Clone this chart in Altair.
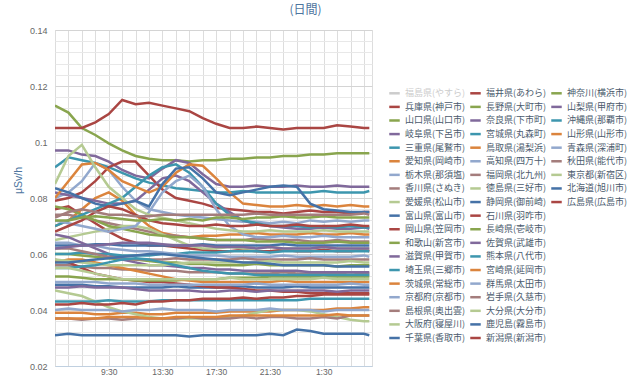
import altair as alt
import pandas as pd

# time of each reading, in hours from midnight of the first day (5:30 ... 4:55 next day)
hours = [5.5, 6.5, 7.5, 8.5, 9.5, 10.5, 11.5, 12.5, 13.5, 14.5, 15.5, 16.5,
         17.5, 18.5, 19.5, 20.5, 21.5, 22.5, 23.5, 24.5, 25.5, 26.5, 27.5, 28.5, 28.9]

x_grid_hours = [5.5, 6.5, 7.5, 8.5, 9.5, 10.5, 11.5, 12.5, 13.5, 14.5, 15.5, 16.5,
                17.5, 18.5, 19.5, 20.5, 21.5, 22.5, 23.5, 24.5, 25.5, 26.5, 27.5, 28.5]
y_grid_values = [0.02, 0.024, 0.028, 0.032, 0.036, 0.04, 0.044, 0.048, 0.052, 0.056,
                 0.06, 0.064, 0.068, 0.072, 0.076, 0.08, 0.084, 0.088, 0.092, 0.096,
                 0.1, 0.104, 0.108, 0.112, 0.116, 0.12, 0.124, 0.128, 0.132, 0.136, 0.14]

series_names = [
    "福島県(やすら)", "兵庫県(神戸市)", "山口県(山口市)", "岐阜県(下呂市)", "三重県(尾鷲市)",
    "愛知県(岡崎市)", "栃木県(那須塩)", "香川県(さぬき)", "愛媛県(松山市)", "富山県(富山市)",
    "岡山県(笠岡市)", "和歌山(新宮市)", "滋賀県(甲賀市)", "埼玉県(三郷市)", "茨城県(常総市)",
    "京都府(京都市)", "島根県(奥出雲)", "大阪府(寝屋川)", "千葉県(香取市)",
    "福井県(あわら)", "長野県(大町市)", "奈良県(下市町)", "宮城県(丸森町)", "鳥取県(湯梨浜)",
    "高知県(四万十)", "福岡県(北九州)", "徳島県(三好市)", "静岡県(御前崎)", "石川県(羽咋市)",
    "長崎県(壱岐市)", "佐賀県(武雄市)", "熊本県(八代市)", "宮崎県(延岡市)", "群馬県(太田市)",
    "岩手県(久慈市)", "大分県(大分市)", "鹿児島(霧島市)", "新潟県(新潟市)",
    "神奈川(横浜市)", "山梨県(甲府市)", "沖縄県(那覇市)", "山形県(山形市)", "青森県(深浦町)",
    "秋田県(能代市)", "東京都(新宿区)", "北海道(旭川市)", "広島県(広島市)",
]
hidden_series = ["福島県(やすら)"]

palette = ["#4572A7", "#AA4643", "#89A54E", "#80699B", "#3D96AE",
           "#DB843D", "#92A8CD", "#A47D7C", "#B5CA92"]

# readings in nSv/h (= μSv/h x 1000), one value per entry of `hours`
readings_nsv = {
    "兵庫県(神戸市)": [76, 77, 74, 71, 68, 65.5, 64, 63, 63, 62.5, 62, 61.5, 61, 61, 61.5, 61, 61, 61.5, 61, 61, 61.5, 61, 61, 61.5, 61],
    "山口県(山口市)": [113, 110.5, 105, 102.5, 99.5, 97, 95, 94, 93.5, 93.5, 93, 93.5, 93.5, 94, 94, 94.5, 94.5, 95, 95, 95.5, 95.5, 96, 96, 96, 96],
    "岐阜県(下呂市)": [97, 97, 95.5, 95, 93, 90, 88, 87, 90.5, 93.5, 92.5, 88.5, 85, 84, 84, 84.5, 84, 84, 84.5, 84, 84, 84.5, 84, 84, 84],
    "三重県(尾鷲市)": [91, 94.5, 93.5, 92.5, 91, 89, 87, 85.5, 84.5, 83.5, 83, 82.5, 82, 82, 82.5, 82, 82, 82, 82, 82, 82.5, 82, 82, 82, 82.5],
    "愛知県(岡崎市)": [70, 72, 76, 80, 82, 79, 74, 70, 67.5, 66.5, 66, 66.5, 66.5, 67, 67, 67.5, 67, 67, 67, 67.5, 67, 67, 67.5, 67, 67],
    "栃木県(那須塩)": [80, 82, 86, 92.5, 90, 84, 79, 76, 75, 74, 73.5, 73, 72.5, 72, 71.5, 71.5, 71, 71.5, 71, 72, 71.5, 72, 71.5, 72, 72],
    "香川県(さぬき)": [74, 74, 73, 72, 71, 70, 69, 68, 67, 66.5, 66, 65.5, 65, 65, 65, 65.5, 65, 65, 65, 64.5, 64.5, 65, 64.5, 64.5, 64.5],
    "愛媛県(松山市)": [65, 66, 67, 68, 69, 70, 70, 69, 67, 65, 63, 62, 62, 62.5, 62, 62, 62.5, 62, 62, 62, 62.5, 62, 62, 62, 62],
    "富山県(富山市)": [49, 49, 49, 48.5, 48.5, 48, 48, 48, 48, 48.5, 48, 48, 48, 48, 48.5, 48, 48, 48, 48.5, 48, 48, 48, 48, 48, 48],
    "岡山県(笠岡市)": [79, 80, 82, 86, 91, 93, 93, 88, 83, 80, 79, 78, 76.5, 76, 75.5, 75, 75, 74.5, 75, 75.5, 75, 75, 74.5, 75, 75],
    "和歌山(新宮市)": [77, 76, 74, 72, 70, 69, 68, 67, 66.5, 66, 66, 65.5, 65, 65, 65, 64.5, 64.5, 64.5, 64, 64, 64, 64.5, 64, 64, 64],
    "滋賀県(甲賀市)": [82, 81, 80, 79, 78, 78, 79, 83, 87, 88, 86, 82, 78, 75, 72, 70.5, 70, 69.5, 69, 69, 69.5, 69, 69, 69.5, 69],
    "埼玉県(三郷市)": [70, 72, 74, 76, 78, 80, 84, 88, 91, 92, 89, 84, 78, 74, 72, 71, 70, 70, 70, 69.5, 70, 69.5, 70, 69.5, 69.5],
    "茨城県(常総市)": [39, 39, 39, 38.5, 38.5, 39, 39, 38.5, 38.5, 39, 39, 39, 39, 39.5, 39.5, 39.5, 39.5, 40, 40, 40, 40, 40.5, 40.5, 41, 41],
    "京都府(京都市)": [72, 71, 70, 69, 68, 69, 70, 75, 82, 86, 88, 84, 76, 70, 67, 66, 66, 66.5, 66, 66, 66.5, 66, 66, 66, 66],
    "島根県(奥出雲)": [56, 56, 55.5, 55, 55, 54.5, 54.5, 54, 54, 54, 53.5, 53.5, 53.5, 53, 53, 53, 53, 53.5, 53, 53, 53, 53, 53.5, 53, 53],
    "大阪府(寝屋川)": [47, 46, 45, 43, 41, 39.5, 38.5, 37.5, 37, 37, 37, 37, 37, 37.5, 38, 39, 40, 40, 40, 39.5, 38.5, 37.5, 36.5, 36, 36],
    "千葉県(香取市)": [31, 31.5, 31, 31, 31, 31, 31, 31, 31, 31, 30.5, 31, 31, 31, 31, 31, 31.5, 31, 33, 32.5, 31.5, 31.5, 31.5, 31.5, 31],
    "福井県(あわら)": [105, 105, 105, 107, 110, 115, 113.5, 114, 113, 112, 111, 108.5, 106.5, 105, 105, 105.5, 105, 104.5, 105, 105, 105, 106, 105.5, 105, 105],
    "長野県(大町市)": [60, 60, 59.5, 59, 58.5, 58, 58, 57.5, 57, 57, 56.5, 56.5, 56, 56, 56, 56.5, 56, 56, 56, 56, 56, 55.5, 56, 56, 56],
    "奈良県(下市町)": [67, 66, 64, 62, 60, 58, 57, 56, 56, 55.5, 55, 55, 54.5, 54.5, 54, 54, 54, 54, 54, 53.5, 53.5, 53.5, 53.5, 53.5, 53.5],
    "宮城県(丸森町)": [60, 60, 60.5, 60, 60, 59.5, 59.5, 59.5, 60, 60, 60.5, 60.5, 60.5, 61, 61, 61, 60.5, 61, 61, 61, 61, 61, 61, 61, 61],
    "鳥取県(湯梨浜)": [80, 86, 92, 92.5, 90, 86, 84, 82, 84, 89, 92, 91.5, 87, 82, 78, 77.5, 77, 77, 77.5, 77, 77.5, 77, 77.5, 77, 77],
    "高知県(四万十)": [64, 64, 63, 63, 62, 61.5, 61, 61, 60.5, 60, 59.5, 59.5, 59.5, 59, 59, 59, 59, 59.5, 59, 59, 59, 59, 59, 59.5, 59],
    "福岡県(北九州)": [37, 37, 36.5, 37, 37, 36.5, 37, 37, 37, 37, 37.5, 37, 37, 37, 37.5, 37, 37.5, 37.5, 37, 37, 37.5, 37, 38, 38, 38],
    "徳島県(三好市)": [85, 95, 99, 91, 84, 80, 76, 74, 73, 72, 71, 70, 69, 68.5, 68, 68, 68.5, 68, 68, 68, 68.5, 68, 68, 68, 68],
    "静岡県(御前崎)": [83.5, 82, 80, 78, 77, 78, 79, 77, 85, 90.5, 91, 87, 82, 81, 82, 83, 84, 84.5, 84, 78, 76, 75.5, 75, 75, 75],
    "石川県(羽咋市)": [58, 57, 55, 53, 52, 51, 50.5, 50, 50, 49.5, 49, 48.5, 48, 48, 47.5, 47, 47, 46.5, 46.5, 46, 46, 46, 46, 46, 46],
    "長崎県(壱岐市)": [52, 52, 51.5, 51, 51, 51, 50.5, 50.5, 50.5, 50.5, 51, 51, 51, 51.5, 51.5, 51.5, 52, 52, 52, 52, 52, 52, 52, 52, 52],
    "佐賀県(武雄市)": [48, 48, 48.5, 48, 48, 48, 47.5, 47, 47, 47, 47, 46.5, 46.5, 47, 47, 46.5, 47, 47, 47, 47, 47, 46.5, 47, 47, 47],
    "熊本県(八代市)": [43, 43, 43, 43, 43.5, 43, 43, 43, 43.5, 43.5, 43.5, 43.5, 43.5, 43.5, 43.5, 43.5, 43.5, 43.5, 43.5, 44, 44, 44, 44, 44, 44],
    "宮崎県(延岡市)": [57, 58, 58, 57, 56, 55, 54, 53, 52, 51, 50.5, 50, 50, 50, 50, 50, 50, 50.5, 50, 50, 50, 50, 50, 50, 50],
    "群馬県(太田市)": [40, 40.5, 40, 40, 40, 39.5, 40, 40, 40.5, 40, 40, 40, 39.5, 40, 40, 40, 40.5, 40, 40, 40, 39.5, 40, 40, 40, 40],
    "岩手県(久慈市)": [62, 62, 61, 60, 59, 58.5, 58, 58, 58, 58.5, 58, 58, 58, 58, 58.5, 58, 58, 58, 58, 58.5, 58, 58, 58, 58, 58],
    "大分県(大分市)": [58, 57.5, 57, 56.5, 56, 56, 56, 56, 56, 56.5, 57, 57, 57, 57, 57, 57, 57.5, 57, 57, 57, 57, 57, 57.5, 57, 57],
    "鹿児島(霧島市)": [63, 63, 63, 63.5, 63.5, 63, 63, 63, 63, 63, 63, 63.5, 63, 63, 63, 63, 63, 63.5, 63, 63, 63, 63, 63, 63, 63],
    "新潟県(新潟市)": [68, 70, 72, 75, 77, 76, 74, 72, 71, 70.5, 70, 70, 70.5, 70, 70, 70.5, 70, 70, 70.5, 70, 70, 70, 70.5, 70, 70],
    "神奈川(横浜市)": [72, 72, 73, 73.5, 73, 72.5, 72, 72, 72.5, 72, 72.5, 72, 73, 73, 72.5, 73, 73, 73.5, 73, 73, 73.5, 73, 73, 73, 73],
    "山梨県(甲府市)": [62, 62.5, 63, 63, 63.5, 64, 64, 64, 63.5, 63, 63, 63, 62.5, 62.5, 62.5, 62, 62.5, 62, 62, 62, 62.5, 62, 62, 62, 62],
    "沖縄県(那覇市)": [55, 55, 55.5, 56, 57, 58, 58.5, 58, 57, 56, 55, 54, 53.5, 53, 53, 52.5, 52.5, 52.5, 52.5, 52.5, 52.5, 52.5, 52.5, 52.5, 52.5],
    "山形県(山形市)": [37, 37, 37, 37, 37.5, 37.5, 37.5, 37, 37, 37.5, 37.5, 37.5, 37.5, 38, 38, 38, 38, 38, 38, 38, 38, 38.5, 38, 38, 38],
    "青森県(深浦町)": [50, 50, 50, 50, 49.5, 49.5, 49.5, 49, 49, 49, 49, 49, 49, 49, 49, 49.5, 49, 49, 49, 49, 49, 49, 49.5, 49, 49],
    "秋田県(能代市)": [73, 75, 76, 75, 74, 74, 73.5, 73.5, 74, 74, 74, 74, 74, 74, 74, 74.5, 74, 74, 74, 74, 74, 74, 74, 74.5, 74],
    "東京都(新宿区)": [55, 55, 54, 53, 52, 51, 51, 51, 51, 51, 51, 51, 51, 51.5, 51, 51, 51, 51, 51, 51, 51.5, 51, 51, 51, 51],
    "北海道(旭川市)": [57, 57, 57.5, 58, 58.5, 59, 59.5, 60, 60, 59.5, 59, 58.5, 58, 57.5, 57, 57, 56.5, 56, 56, 56, 56, 55.5, 55.5, 55.5, 55.5],
    "広島県(広島市)": [42, 42, 42.5, 42, 42, 42.5, 42, 43, 43, 43.5, 43.5, 44, 44, 44, 44.5, 44, 44.5, 44.5, 45, 45, 45.5, 45.5, 45.5, 45.5, 45.5],
}

# ---- build tables ----
series_colors = []
for i, name in enumerate(series_names):
    series_colors.append("#cccccc" if name in hidden_series else palette[i % len(palette)])

rows = []
for name, vals in readings_nsv.items():
    for h, v in zip(hours, vals):
        rows.append({"series": name, "hour": h, "value": v / 1000.0})
df = pd.DataFrame(rows)

legend_rows = 19
legend_df = pd.DataFrame({
    "series": series_names,
    "col": [i // legend_rows for i in range(len(series_names))],
    "row": [i % legend_rows for i in range(len(series_names))],
})

color_scale = alt.Scale(domain=series_names, range=series_colors)
axis_font = "Liberation Sans"
cjk_font = "Noto Sans CJK JP"

x_label_expr = ("datum.value > 6 && (datum.value - 9.5) % 4 == 0 ? "
                "(floor(datum.value) % 24) + ':30' : ''")
y_label_expr = "round(datum.value * 1000) % 20 == 0 ? format(datum.value, '~g') : ''"

lines = alt.Chart(df).mark_line(strokeWidth=2.5, clip=True).encode(
    x=alt.X("hour:Q",
            scale=alt.Scale(domain=[5.5, 29.1], nice=False, zero=False),
            axis=alt.Axis(values=x_grid_hours, labelExpr=x_label_expr, title=None,
                          grid=True, gridColor="#dddddd", ticks=False,
                          domainColor="#c0d0e0", labelFont=axis_font, labelFontSize=8.5,
                          labelColor="#666666", labelPadding=1, labelOverlap=False)),
    y=alt.Y("value:Q",
            scale=alt.Scale(domain=[0.02, 0.14], nice=False, zero=False),
            axis=alt.Axis(values=y_grid_values, labelExpr=y_label_expr,
                          title="μSv/h", titleFont=axis_font, titleFontSize=10.5,
                          titleFontWeight="normal", titleColor="#4d759e",
                          titleX=-37, titleY=150, titleAngle=-90,
                          titleAlign="center", titleBaseline="middle",
                          grid=True,
                          gridColor={"condition": {"test": "round(datum.value * 1000) % 20 == 0",
                                                   "value": "#d4d4d4"},
                                     "value": "#e8e8e8"},
                          ticks=False, domain=False, labelFont=axis_font,
                          labelFontSize=9, labelColor="#666666", labelPadding=8,
                          labelOverlap=False)),
    color=alt.Color("series:N", scale=color_scale, legend=None),
    order=alt.Order("hour:Q"),
)

leg_x = alt.X("col:Q", scale=alt.Scale(domain=[0, 2], range=[350, 512]), axis=None)
leg_y = alt.Y("row:Q", scale=alt.Scale(domain=[0, legend_rows - 1], range=[63.3, 308]), axis=None)

legend_symbols = alt.Chart(legend_df).mark_point(
    shape="stroke", size=110, strokeWidth=2.5, filled=False, opacity=1, xOffset=-10.5
).encode(
    x=leg_x, y=leg_y,
    color=alt.Color("series:N", scale=color_scale, legend=None),
)

legend_labels = alt.Chart(legend_df).mark_text(
    align="left", baseline="middle", font=cjk_font, fontSize=9
).encode(
    x=leg_x, y=leg_y,
    text="series:N",
    color=alt.condition(alt.FieldOneOfPredicate(field="series", oneOf=hidden_series),
                        alt.value("#cccccc"), alt.value("#4a5a6c")),
)

chart = alt.layer(lines, legend_symbols, legend_labels).resolve_scale(
    x="independent", y="independent"
).properties(
    width=317, height=336,
    title=alt.TitleParams("(日間)", font=cjk_font, fontSize=12, fontWeight="normal",
                          color="#4d759e", anchor="middle", dx=92, offset=9),
    autosize=alt.AutoSizeParams(type="none"),
    padding={"left": 55, "top": 30, "right": 268, "bottom": 11},
).configure_view(stroke=None).configure(background="white")

chart.save("out.html", embed_options={"renderer": "svg", "actions": False})
